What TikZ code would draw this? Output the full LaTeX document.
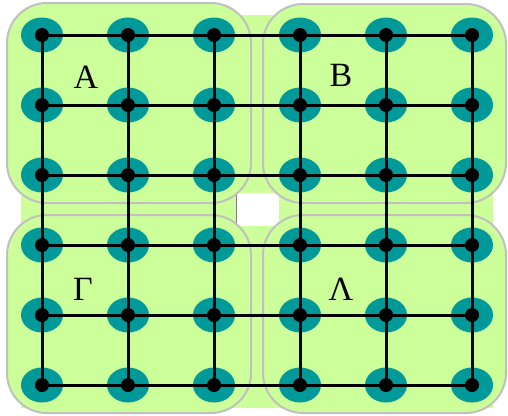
\documentclass[tikz,border=0pt]{standalone}
\usepackage{fontspec}
\setmainfont{Liberation Serif}
\definecolor{lgreen}{RGB}{204,255,153}
\definecolor{teal2}{RGB}{0,153,153}
\definecolor{bordergray}{RGB}{192,192,192}
\tikzset{
  region/.style={draw=bordergray, line width=2pt, fill=lgreen, rounded corners=40pt},
  halo/.style={ellipse, fill=teal2, minimum width=42pt, minimum height=35pt, inner sep=0pt},
  dot/.style={circle, fill=black, minimum size=14pt, inner sep=0pt},
  link/.style={line width=3pt, black},
  lab/.style={font=\fontsize{34}{34}\selectfont, inner sep=0pt}
}
\usetikzlibrary{shapes.geometric}
\begin{document}
\begin{tikzpicture}[x=1pt,y=-1pt]
\useasboundingbox (0,0) rectangle (508,415);
% background
\fill[lgreen] (21,15) rectangle (493,408);
\fill[white] (236,193) rectangle (279,226);
\draw[gray, line width=0.8pt] (236,193) -- (236,226);
% regions
\draw[region] (7,3) rectangle (251,203);
\draw[region] (263,4) rectangle (506,203);
\draw[region] (7,215) rectangle (251,413);
\draw[region] (263,215) rectangle (506,413);
% halos
\foreach \i/\x in {1/42,2/128,3/214,4/300,5/386,6/472}{
  \foreach \j/\y in {1/35,2/105,3/175,4/245,5/315,6/385}{
    \node[halo] (n-\i-\j) at (\x,\y) {};
  }
}
% links
\foreach \k in {1,...,6}{
  \draw[link] (n-1-\k.center) -- (n-6-\k.center);
  \draw[link] (n-\k-1.center) -- (n-\k-6.center);
}
% dots
\foreach \i in {1,...,6}{
  \foreach \j in {1,...,6}{
    \node[dot] (d-\i-\j) at (n-\i-\j.center) {};
  }
}
% labels
\node[lab] (la) at (86,77) {Α};
\node[lab] (lb) at (341,75) {Β};
\node[lab] (lg) at (83,289) {Γ};
\node[lab] (ll) at (341,289) {Λ};
\end{tikzpicture}
\end{document}
